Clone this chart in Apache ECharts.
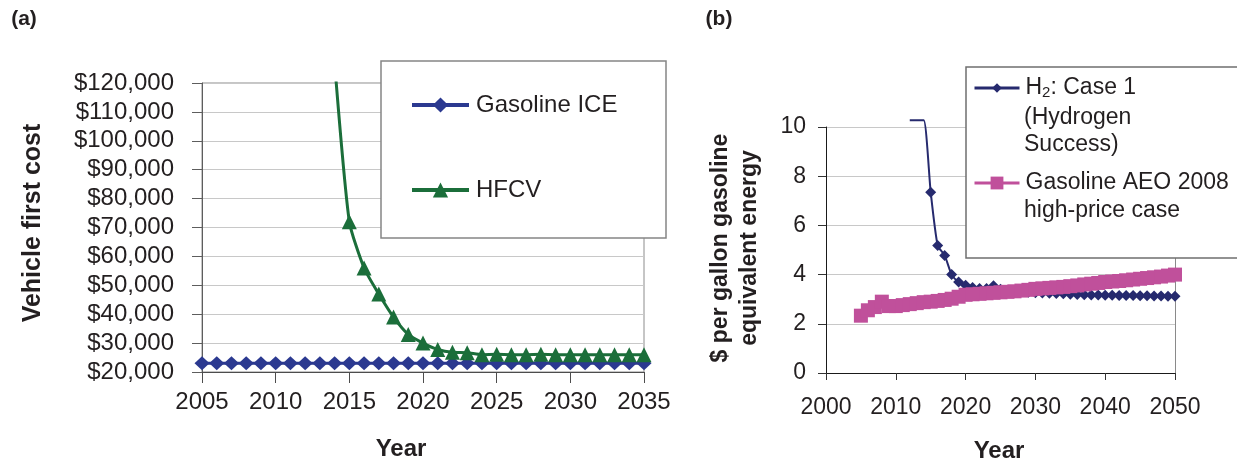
<!DOCTYPE html>
<html>
<head>
<meta charset="utf-8">
<script src="https://cdn.jsdelivr.net/npm/echarts@6/dist/echarts.min.js"></script>
<style>
html,body{margin:0;padding:0;background:#fff;}
#c{width:1237px;height:461px;}
</style>
</head>
<body>
<div id="c"></div>
<script>
// ---------- Panel (a) data ----------
const gasIceYears = [2005,2006,2007,2008,2009,2010,2011,2012,2013,2014,2015,2016,2017,2018,2019,2020,2021,2022,2023,2024,2025,2026,2027,2028,2029,2030,2031,2032,2033,2034,2035];
const gasIceCost  = [23000,23000,23000,23000,23000,23000,23000,23000,23000,23000,23000,23000,23000,23000,23000,23000,23000,23000,23000,23000,23000,23000,23000,23000,23000,23000,23000,23000,23000,23000,23000];
const hfcvYears = [2014,2015,2016,2017,2018,2019,2020,2021,2022,2023,2024,2025,2026,2027,2028,2029,2030,2031,2032,2033,2034,2035];
const hfcvCost  = [127000,72000,56000,47000,39000,33000,30000,27800,26800,26700,26000,26100,26000,26000,26100,26000,26000,26000,26000,26000,26000,26000];
const costTicksMin = 20000, costTicksMax = 120000, costTickStep = 10000;

// ---------- Panel (b) data ----------
const h2Years = [2012,2013,2014,2015,2016,2017,2018,2019,2020,2021,2022,2023,2024,2025,2026,2027,2028,2029,2030,2031,2032,2033,2034,2035,2036,2037,2038,2039,2040,2041,2042,2043,2044,2045,2046,2047,2048,2049,2050];
const h2Price = [10.27,10.27,10.27,7.35,5.18,4.78,4.0,3.7,3.57,3.48,3.44,3.44,3.55,3.4,3.36,3.33,3.3,3.28,3.26,3.25,3.24,3.23,3.22,3.2,3.19,3.18,3.17,3.17,3.16,3.16,3.15,3.15,3.15,3.14,3.14,3.13,3.13,3.12,3.12];
const gasAeoYears = [2005,2006,2007,2008,2009,2010,2011,2012,2013,2014,2015,2016,2017,2018,2019,2020,2021,2022,2023,2024,2025,2026,2027,2028,2029,2030,2031,2032,2033,2034,2035,2036,2037,2038,2039,2040,2041,2042,2043,2044,2045,2046,2047,2048,2049,2050];
const gasAeoPrice = [2.33,2.55,2.68,2.9,2.72,2.72,2.76,2.8,2.84,2.88,2.9,2.93,2.97,3.02,3.1,3.18,3.2,3.22,3.24,3.26,3.28,3.3,3.32,3.35,3.38,3.42,3.44,3.46,3.48,3.5,3.53,3.56,3.6,3.63,3.66,3.7,3.72,3.74,3.77,3.8,3.83,3.86,3.89,3.92,3.96,4.0];
const priceMin = 0, priceMax = 10, priceStep = 2;

const FONT = '"Liberation Sans", Arial, Helvetica, sans-serif';
const TXT = '#231f20';

const pair = (xs, ys) => xs.map((x, i) => [x, ys[i]]);
const h2Data = h2Years.map((x, i) => h2Price[i] > priceMax ? { value: [x, h2Price[i]], symbol: 'none' } : [x, h2Price[i]]);
const fmtMoney = v => '$' + v.toString().replace(/\B(?=(\d{3})+(?!\d))/g, ',');
const fmtYear = v => String(v);

const chart = echarts.init(document.getElementById('c'), null, { renderer: 'canvas' });
chart.setOption({
  animation: false,
  backgroundColor: '#ffffff',
  textStyle: { fontFamily: FONT, color: TXT },
  grid: [
    { left: 202, top: 83, width: 442, height: 289, show: true, borderColor: '#8c8c8c', borderWidth: 1, backgroundColor: 'transparent' },
    { left: 826, top: 127, width: 349, height: 246, show: false }
  ],
  xAxis: [
    { type: 'value', gridIndex: 0, min: 2005, max: 2035, interval: 5,
      axisLine: { show: true, lineStyle: { color: '#4d4d4d', width: 1 } },
      axisTick: { show: true, length: 11, lineStyle: { color: '#4d4d4d' } },
      axisLabel: { fontSize: 24, color: TXT, margin: 18, fontFamily: FONT, formatter: fmtYear },
      splitLine: { show: false } },
    { type: 'value', gridIndex: 1, position: 'bottom', min: 2000, max: 2050, interval: 10,
      axisLine: { show: true, lineStyle: { color: '#7a7a7a', width: 1 } },
      axisTick: { show: true, length: 7, lineStyle: { color: '#333' } },
      axisLabel: { fontSize: 23, color: TXT, margin: 23, fontFamily: FONT, formatter: fmtYear },
      splitLine: { show: false } },
    { type: 'value', gridIndex: 1, position: 'top', min: 2000, max: 2050,
      axisLine: { show: true, lineStyle: { color: '#1a1a1a', width: 1 } },
      axisTick: { show: false }, axisLabel: { show: false }, splitLine: { show: false } }
  ],
  yAxis: [
    { type: 'value', gridIndex: 0, min: costTicksMin, max: costTicksMax, interval: costTickStep,
      axisLine: { show: true, lineStyle: { color: '#5d5d5d', width: 1 } },
      axisTick: { show: true, length: 10, lineStyle: { color: '#5d5d5d' } },
      axisLabel: { fontSize: 24, color: TXT, margin: 28, fontFamily: FONT, formatter: fmtMoney },
      splitLine: { show: true, lineStyle: { color: '#c8c8c8', width: 1 } } },
    { type: 'value', gridIndex: 1, position: 'left', min: priceMin, max: priceMax, interval: priceStep,
      axisLine: { show: true, lineStyle: { color: '#1a1a1a', width: 1 } },
      axisTick: { show: true, length: 8, lineStyle: { color: '#333' } },
      axisLabel: { fontSize: 23, color: TXT, margin: 20, fontFamily: FONT },
      splitLine: { show: true, lineStyle: { color: '#c8c8c8', width: 1 } } },
    { type: 'value', gridIndex: 1, position: 'right', min: priceMin, max: priceMax,
      axisLine: { show: true, lineStyle: { color: '#8a8a8a', width: 1 } },
      axisTick: { show: false }, axisLabel: { show: false }, splitLine: { show: false } }
  ],
  legend: [
    { left: 410, top: 91, orient: 'vertical', padding: 0, itemWidth: 57, itemHeight: 19, itemGap: 57,
      data: ['Gasoline ICE', 'HFCV'],
      lineStyle: { width: 4 },
      textStyle: { fontSize: 24, color: TXT, fontFamily: FONT, lineHeight: 28, padding: [0, 0, 0, 2] } },
    { left: 973, top: 74, orient: 'vertical', padding: 0, itemWidth: 45, itemHeight: 12,
      data: ['H₂: Case 1'],
      lineStyle: { width: 3 },
      formatter: () => '{n|H}{s|2}{n|: Case 1}',
      textStyle: { fontSize: 23, color: TXT, fontFamily: FONT, lineHeight: 28, padding: [0, 0, 0, 1],
        rich: { n: { fontSize: 23, color: TXT, fontFamily: FONT, lineHeight: 28 },
                s: { fontSize: 15, color: TXT, fontFamily: FONT, padding: [10, 0, 0, 0] } } } },
    { left: 973, top: 169, orient: 'vertical', padding: 0, itemWidth: 45, itemHeight: 16,
      data: ['Gasoline AEO 2008 high-price case'],
      lineStyle: { width: 3 },
      formatter: () => 'Gasoline AEO 2008',
      textStyle: { fontSize: 23, color: TXT, fontFamily: FONT, lineHeight: 28, padding: [0, 0, 0, 1] } }
  ],
  graphic: [
    { type: 'rect', z: 3, shape: { x: 381, y: 61, width: 285, height: 177 }, style: { fill: '#fff', stroke: '#858585', lineWidth: 1.5 } },
    { type: 'rect', z: 3, shape: { x: 966, y: 67, width: 290, height: 191 }, style: { fill: '#fff', stroke: '#6f6f6f', lineWidth: 1.5 } },
    { type: 'text', z: 5, x: 1024, y: 118, style: { text: '(Hydrogen', font: '23px ' + FONT, fill: TXT, align: 'left', verticalAlign: 'middle' } },
    { type: 'text', z: 5, x: 1024, y: 145, style: { text: 'Success)', font: '23px ' + FONT, fill: TXT, align: 'left', verticalAlign: 'middle' } },
    { type: 'text', z: 5, x: 1024, y: 211, style: { text: 'high-price case', font: '23px ' + FONT, fill: TXT, align: 'left', verticalAlign: 'middle' } },
    { type: 'text', z: 5, x: 24, y: 19, style: { text: '(a)', font: 'bold 21px ' + FONT, fill: TXT, align: 'center', verticalAlign: 'middle' } },
    { type: 'text', z: 5, x: 719, y: 19, style: { text: '(b)', font: 'bold 21px ' + FONT, fill: TXT, align: 'center', verticalAlign: 'middle' } },
    { type: 'text', z: 5, x: 401, y: 449, style: { text: 'Year', font: 'bold 24px ' + FONT, fill: TXT, align: 'center', verticalAlign: 'middle' } },
    { type: 'text', z: 5, x: 999, y: 451, style: { text: 'Year', font: 'bold 24px ' + FONT, fill: TXT, align: 'center', verticalAlign: 'middle' } },
    { type: 'text', z: 5, x: 33, y: 223, rotation: Math.PI / 2, style: { text: 'Vehicle first cost', font: 'bold 25px ' + FONT, fill: TXT, align: 'center', verticalAlign: 'middle' } },
    { type: 'text', z: 5, x: 721, y: 248, rotation: Math.PI / 2, style: { text: '$ per gallon gasoline', font: 'bold 23px ' + FONT, fill: TXT, align: 'center', verticalAlign: 'middle' } },
    { type: 'text', z: 5, x: 750, y: 248, rotation: Math.PI / 2, style: { text: 'equivalent energy', font: 'bold 23px ' + FONT, fill: TXT, align: 'center', verticalAlign: 'middle' } }
  ],
  series: [
    { name: 'Gasoline ICE', type: 'line', xAxisIndex: 0, yAxisIndex: 0, data: pair(gasIceYears, gasIceCost),
      symbol: 'diamond', symbolSize: [15, 14], showAllSymbol: true,
      lineStyle: { color: '#2b3990', width: 3 }, itemStyle: { color: '#2b3990' } },
    { name: 'HFCV', type: 'line', xAxisIndex: 0, yAxisIndex: 0, data: pair(hfcvYears, hfcvCost),
      symbol: 'triangle', symbolSize: 15, showAllSymbol: true, smooth: 0.2, clip: true,
      lineStyle: { color: '#1b6e3a', width: 3 }, itemStyle: { color: '#1b6e3a' } },
    { name: 'H₂: Case 1', type: 'line', xAxisIndex: 1, yAxisIndex: 1, data: h2Data,
      symbol: 'diamond', symbolSize: 11, showAllSymbol: true, smooth: 0.2, clip: false,
      lineStyle: { color: '#262a6e', width: 2 }, itemStyle: { color: '#262a6e' } },
    { name: 'Gasoline AEO 2008 high-price case', type: 'line', xAxisIndex: 1, yAxisIndex: 1, data: pair(gasAeoYears, gasAeoPrice),
      symbol: 'rect', symbolSize: 14, showAllSymbol: true,
      lineStyle: { color: '#c0509b', width: 3 }, itemStyle: { color: '#c0509b' } }
  ]
});
</script>
</body>
</html>
